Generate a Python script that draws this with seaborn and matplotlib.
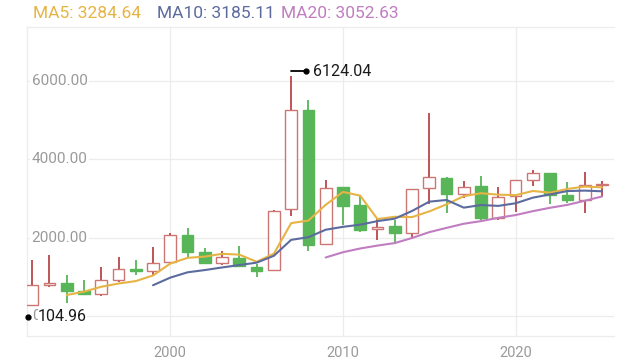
import pandas as pd
import matplotlib
matplotlib.use('Agg')
import matplotlib.pyplot as plt
import seaborn as sns

# yearly candles (Shanghai composite)
years = list(range(1990, 2026))
opens = [96.05, 127.61, 293.74, 784.13, 837.70, 637.72, 550.26, 914.06, 1200.95, 1144.89,
         1368.69, 2077.07, 1643.48, 1347.43, 1492.72, 1260.78, 1163.88, 2728.19, 5265.00, 1849.02,
         3289.75, 2825.33, 2212.00, 2289.51, 2112.13, 3258.63, 3536.59, 3105.31, 3314.03, 2497.88,
         3066.34, 3474.68, 3649.15, 3087.51, 2972.78, 3347.94]
highs = [127.61, 292.75, 1429.01, 1558.95, 1052.94, 926.41, 1258.69, 1510.18, 1422.98, 1756.18,
         2125.72, 2245.44, 1748.89, 1649.60, 1783.01, 1328.53, 2698.90, 6124.04, 5522.78, 3478.01,
         3306.75, 3067.46, 2478.38, 2444.80, 3239.36, 5178.19, 3538.69, 3450.49, 3587.03, 3288.45,
         3474.92, 3731.69, 3651.89, 3418.95, 3674.40, 3439.06]
lows = [95.79, 104.96, 292.76, 750.46, 325.89, 524.43, 512.83, 870.18, 1043.02, 1047.83,
        1361.21, 1514.86, 1339.20, 1307.40, 1259.43, 998.23, 1161.91, 2541.52, 1664.93, 1844.09,
        2319.74, 2134.02, 1949.46, 1849.65, 1974.38, 2850.71, 2638.30, 3016.53, 2449.20, 2440.91,
        2646.80, 3312.72, 2863.65, 2882.02, 2635.09, 3040.69]
closes = [127.61, 292.75, 780.39, 833.80, 647.87, 555.29, 917.02, 1194.10, 1146.70, 1366.58,
          2073.48, 1645.97, 1357.65, 1497.04, 1266.50, 1161.06, 2675.47, 5261.56, 1820.81, 3277.14,
          2808.08, 2199.42, 2269.13, 2115.98, 3234.68, 3539.18, 3103.64, 3307.17, 2493.90, 3050.12,
          3473.07, 3639.78, 3089.26, 2974.93, 3351.76, 3367.47]

y_ticks = [0, 2000, 4000, 6000]
x_ticks = [2000, 2010, 2020]

df = pd.DataFrame({'year': years, 'open': opens, 'high': highs, 'low': lows, 'close': closes})
df['MA5'] = df['close'].rolling(5).mean()
df['MA10'] = df['close'].rolling(10).mean()
df['MA20'] = df['close'].rolling(20).mean()

ma_colors = {'MA5': '#e6b445', 'MA10': '#5b6b9e', 'MA20': '#c07dc0'}
up_edge = '#cc7674'
up_wick = '#b9464a'
down_col = '#58b558'
grid_col = '#ececec'

sns.set_theme(style='white')
plt.rcParams['font.family'] = ['Roboto', 'DejaVu Sans']

fig = plt.figure(figsize=(6.4, 3.6), dpi=100)
ax = fig.add_axes([27/640, 24/360, 587/640, 309/360])
ax.set_xlim(1991.7, 2025.7)
ax.set_ylim(-510, 7380)

for v in y_ticks:
    ax.axhline(v, color=grid_col, lw=0.9, zorder=0)
for v in x_ticks:
    ax.axvline(v, color=grid_col, lw=0.9, zorder=0)

# candles
up = df[df['close'] >= df['open']]
dn = df[df['close'] < df['open']]
ax.vlines(up['year'], up['low'], up['high'], color=up_wick, lw=1.3, zorder=2)
ax.vlines(dn['year'], dn['low'], dn['high'], color=down_col, lw=1.3, zorder=2)
ax.bar(up['year'], (up['close'] - up['open']).clip(lower=25), bottom=up['open'], width=0.68,
       facecolor='white', edgecolor=up_edge, linewidth=1.0, zorder=3)
ax.bar(dn['year'], (dn['open'] - dn['close']), bottom=dn['close'], width=0.68,
       facecolor=down_col, edgecolor=down_col, linewidth=1.0, zorder=3)

for name, col in ma_colors.items():
    sns.lineplot(x=df['year'], y=df[name], color=col, lw=1.5, ax=ax, zorder=4)

ax.set_xlabel('')
ax.set_ylabel('')
ax.set_yticks([])
ax.set_xticks(x_ticks)
ax.set_xticklabels([str(x) for x in x_ticks], color='#9a9a9a', fontsize=10.5)
ax.tick_params(axis='x', length=0, pad=7)
for s in ['top', 'bottom', 'left']:
    ax.spines[s].set_color(grid_col)
    ax.spines[s].set_linewidth(0.9)
ax.spines['right'].set_visible(False)

# y labels inside the plot
for v in y_ticks:
    ax.text(0.008, v, f'{v:.2f}', transform=ax.get_yaxis_transform(), ha='left', va='center',
            color='#9a9a9a', fontsize=11, zorder=5,
            bbox=dict(facecolor='white', edgecolor='none', pad=1.0))

# max / min marks
inv = ax.transData.inverted()
i_max = df['high'].idxmax()
px = ax.transData.transform((df['year'][i_max], df['high'][i_max]))
(x0, y0) = inv.transform((px[0], px[1] + 5))
(x1, _) = inv.transform((px[0] + 15, px[1] + 5))
ax.plot([x0, x1], [y0, y0], color='black', lw=1.3, zorder=6, clip_on=False)
ax.plot([x1], [y0], 'o', color='black', ms=3.5, zorder=6, clip_on=False)
(xt, _) = inv.transform((px[0] + 22, 0))
ax.text(xt, y0, f"{df['high'][i_max]:.2f}", ha='left', va='center', color='#1a1a1a',
        fontsize=11.5, zorder=6)

low_min = df.loc[df['year'] == 1991, 'low'].iloc[0]
pm = ax.transData.transform((ax.get_xlim()[0], low_min))
(xm, ym) = inv.transform((pm[0] + 1, pm[1] - 5))
(xmt, _) = inv.transform((pm[0] + 11, 0))
ax.plot([xm], [ym], 'o', color='black', ms=3.5, zorder=7, clip_on=False)
ax.text(xmt, ym, f'{low_min:.2f}', ha='left', va='center', color='#1a1a1a', fontsize=11.5,
        zorder=7, bbox=dict(facecolor='white', edgecolor='none', pad=0.0))

# legend values on top
last = df.iloc[-1]
xs = [33, 157, 281]
for (name, col), xp in zip(ma_colors.items(), xs):
    fig.text(xp/640, 1 - 14/360, f'{name}: {last[name]:.2f}', color=col, fontsize=12.5,
             ha='left', va='center')

fig.savefig('out.png', dpi=100)
